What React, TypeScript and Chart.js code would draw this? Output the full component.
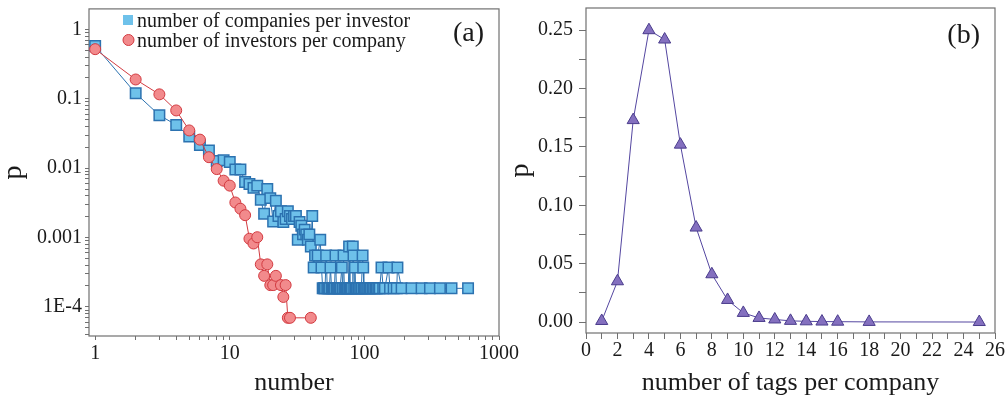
import React, { useEffect, useRef } from 'react';
import { Chart, registerables } from 'chart.js';

Chart.register(...registerables);

const FONT = '"Liberation Serif", "Times New Roman", serif';

// ---------- Panel (a): degree distributions (log-log) ----------
const companiesPerInvestorX = [
  1, 2, 3, 4, 5, 6, 7, 8, 9, 10, 11, 12, 13, 14, 15, 16, 17, 18, 19, 20,
  21, 22, 23, 24, 25, 26, 27, 28, 29, 30, 31, 32, 33, 34, 35, 36, 37, 38, 39, 40,
  41, 42, 43, 45, 47, 48, 49, 50, 51, 52, 53, 54, 55, 56, 57, 58, 59, 60,
  61, 62, 63, 64, 65, 66, 67, 68, 69, 70, 71, 72, 73, 74, 75, 76, 77, 78, 79, 80,
  81, 82, 83, 84, 85, 86, 87, 88, 90, 91, 93, 95, 96, 97, 98, 99, 101, 103, 105,
  107, 110, 112, 115, 118, 121, 124, 127, 130, 134, 138, 142, 151, 155, 165, 174,
  176, 189, 224, 266, 307, 364, 444, 589,
];
const companiesPerInvestorP = [
  0.58, 0.12, 0.058, 0.042, 0.0287, 0.0216, 0.018, 0.0127, 0.013, 0.0123,
  0.0096, 0.0096, 0.0063, 0.0059, 0.0052, 0.0056, 0.0035, 0.0022, 0.005, 0.0037,
  0.0017, 0.0034, 0.00204, 0.0024, 0.00167, 0.00185, 0.0024, 0.00204, 0.00185, 0.00204,
  0.00204, 0.00093, 0.00167, 0.00148, 0.00111, 0.0013, 0.00111, 0.00093, 0.00111, 0.00074,
  0.00204, 0.00037, 0.00055, 0.00055, 0.00093, 0.00037, 0.000185, 0.000185, 0.000185, 0.00055,
  0.000185, 0.000185, 0.000185, 0.00037, 0.000185, 0.000185, 0.000185, 0.000185,
  0.00055, 0.000185, 0.000185, 0.000185, 0.000185, 0.000185, 0.000185, 0.00037, 0.000185, 0.00055,
  0.000185, 0.000185, 0.000185, 0.000185, 0.000185, 0.000185, 0.00074, 0.000185, 0.000185, 0.000185,
  0.000185, 0.00074, 0.00055, 0.000185, 0.00037, 0.000185, 0.000185, 0.000185, 0.000185, 0.000185,
  0.000185, 0.000185, 0.000185, 0.00055, 0.00037, 0.000185, 0.000185, 0.000185, 0.000185,
  0.000185, 0.000185, 0.000185, 0.000185, 0.000185, 0.000185, 0.000185, 0.000185, 0.000185,
  0.00037, 0.000185, 0.000185, 0.00037, 0.000185, 0.000185, 0.000185,
  0.00037, 0.000185, 0.000185, 0.000185, 0.000185, 0.000185, 0.000185, 0.000185,
];
const investorsPerCompanyX = [
  1, 2, 3, 4, 5, 6, 7, 8, 9, 10, 11, 12, 13, 14, 15, 16, 17, 18, 19, 20,
  21, 22, 24, 25, 26, 27, 28, 40,
];
const investorsPerCompanyP = [
  0.52, 0.19, 0.116, 0.068, 0.035, 0.0258, 0.0144, 0.0097, 0.0066, 0.0056,
  0.0032, 0.0026, 0.0021, 0.00096, 0.00082, 0.00101, 0.00041, 0.00028, 0.00041, 0.000206,
  0.000206, 0.00028, 0.000206, 0.000139, 0.000206, 0.0000695, 0.0000695, 0.0000695,
];
const logXMajor = [1, 10, 100, 1000];
const logXLabels = ['1', '10', '100', '1000'];
const logYMajor = [1e-4, 1e-3, 1e-2, 1e-1, 1];
const logYLabels = ['1E-4', '0.001', '0.01', '0.1', '1'];
const legendLabels = ['number of companies per investor', 'number of investors per company'];

// ---------- Panel (b): tags per company ----------
const tagsX = [1, 2, 3, 4, 5, 6, 7, 8, 9, 10, 11, 12, 13, 14, 15, 16, 18, 25];
const tagsP = [
  0.001, 0.035, 0.173, 0.25, 0.242, 0.152, 0.081, 0.041, 0.019, 0.0079,
  0.0036, 0.0023, 0.0011, 0.0007, 0.0005, 0.0004, 0.0002, 0.0001,
];
const tagsXTicks = Array.from({ length: 27 }, (_, i) => i);
const tagsYTicks = Array.from({ length: 11 }, (_, i) => Math.round(i * 25) / 1000);

const BLUE_FILL = '#6ec1ea';
const BLUE_LINE = '#2c72b0';
const RED_FILL = '#f28a8c';
const RED_LINE = '#d23a40';
const PURPLE_FILL = '#8470bf';
const PURPLE_LINE = '#4a3c8c';
const TEXT = '#1a1a1a';
const AXIS = '#707070';

function logTicks(majors: number[], lo: number, hi: number) {
  const out: number[] = [];
  const e0 = Math.floor(Math.log10(lo)) - 1;
  const e1 = Math.ceil(Math.log10(hi));
  for (let e = e0; e <= e1; e++) {
    for (let m = 1; m <= 9; m++) {
      const v = m * Math.pow(10, e);
      if (v >= lo * 0.9999 && v <= hi * 1.0001) out.push(v);
    }
  }
  return out;
}

function labelFor(v: number, majors: number[], labels: string[]) {
  for (let i = 0; i < majors.length; i++) {
    if (Math.abs(v - majors[i]) / majors[i] < 1e-6) return labels[i];
  }
  return '';
}

const framePlugin = {
  id: 'frame',
  beforeDatasetsDraw(chart: any) {
    const { ctx, chartArea } = chart;
    ctx.save();
    ctx.strokeStyle = AXIS;
    ctx.lineWidth = 1.2;
    ctx.strokeRect(chartArea.left, chartArea.top, chartArea.right - chartArea.left, chartArea.bottom - chartArea.top);
    ctx.restore();
  },
};

function panelLabel(text: string, x: number, y: number) {
  return {
    id: 'panelLabel' + text,
    afterDraw(chart: any) {
      const ctx = chart.ctx;
      ctx.save();
      ctx.font = `28px ${FONT}`;
      ctx.fillStyle = TEXT;
      ctx.textAlign = 'right';
      ctx.textBaseline = 'alphabetic';
      ctx.fillText(text, x, y);
      ctx.restore();
    },
  };
}

const legendPlugin = {
  id: 'customLegend',
  afterDraw(chart: any) {
    const ctx = chart.ctx;
    ctx.save();
    ctx.fillStyle = BLUE_FILL;
    ctx.fillRect(123, 15, 10, 10);
    ctx.beginPath();
    ctx.arc(128.5, 40, 5.5, 0, Math.PI * 2);
    ctx.fillStyle = RED_FILL;
    ctx.fill();
    ctx.strokeStyle = RED_LINE;
    ctx.lineWidth = 1;
    ctx.stroke();
    ctx.font = `20px ${FONT}`;
    ctx.fillStyle = TEXT;
    ctx.textAlign = 'left';
    ctx.textBaseline = 'alphabetic';
    ctx.fillText(legendLabels[0], 137, 27);
    ctx.fillText(legendLabels[1], 137, 47);
    ctx.restore();
  },
};

const tickFont = { family: FONT, size: 20 };

export default function App() {
  const ref1 = useRef<HTMLCanvasElement>(null);
  const ref2 = useRef<HTMLCanvasElement>(null);

  useEffect(() => {
    const xMin = 0.9, xMax = 1000, yMin = 3.8e-5, yMax = 1.98;
    const c1 = new Chart(ref1.current!, {
      type: 'line',
      data: {
        datasets: [
          {
            label: legendLabels[1],
            data: investorsPerCompanyX.map((x, i) => ({ x, y: investorsPerCompanyP[i] })),
            borderColor: RED_LINE,
            borderWidth: 1,
            pointStyle: 'circle',
            pointRadius: 5.5,
            pointBackgroundColor: RED_FILL,
            pointBorderColor: RED_LINE,
            pointBorderWidth: 1,
            tension: 0,
          },
          {
            label: legendLabels[0],
            data: companiesPerInvestorX.map((x, i) => ({ x, y: companiesPerInvestorP[i] })),
            borderColor: BLUE_LINE,
            borderWidth: 1,
            pointStyle: 'rect',
            pointRadius: 7.4,
            pointBackgroundColor: BLUE_FILL,
            pointBorderColor: BLUE_LINE,
            pointBorderWidth: 1.5,
            tension: 0,
          },
        ],
      },
      options: {
        animation: false,
        responsive: false,
        layout: { padding: { top: 4, right: 31, left: 0, bottom: 0 } },
        plugins: { legend: { display: false }, tooltip: { enabled: false } },
        scales: {
          x: {
            type: 'logarithmic',
            min: xMin,
            max: xMax,
            afterBuildTicks: (s: any) => {
              s.ticks = logTicks(logXMajor, 1, xMax).map((v) => ({ value: v }));
            },
            afterFit: (s: any) => {
              s.height = 76;
              s.paddingLeft = 0;
              s.paddingRight = 0;
            },
            ticks: {
              callback: (v: any) => labelFor(Number(v), logXMajor, logXLabels),
              font: tickFont,
              color: TEXT,
              padding: 2,
              maxRotation: 0,
              autoSkip: false,
            },
            grid: { drawOnChartArea: false, drawTicks: true, tickLength: 4, color: AXIS },
            border: { display: false },
            title: {
              display: true,
              text: 'number',
              color: TEXT,
              font: { family: FONT, size: 26, lineHeight: 1 },
              padding: { top: 0, bottom: 16 },
            },
          },
          y: {
            type: 'logarithmic',
            min: yMin,
            max: yMax,
            afterBuildTicks: (s: any) => {
              s.ticks = logTicks(logYMajor, 4e-5, 1).map((v) => ({ value: v }));
            },
            afterFit: (s: any) => {
              s.width = 89;
              s.paddingTop = 0;
              s.paddingBottom = 0;
            },
            ticks: {
              callback: (v: any) => labelFor(Number(v), logYMajor, logYLabels),
              font: tickFont,
              color: TEXT,
              padding: 3,
              autoSkip: false,
            },
            grid: { drawOnChartArea: false, drawTicks: true, tickLength: 4, color: AXIS },
            border: { display: false },
            title: {
              display: true,
              text: 'p',
              color: TEXT,
              font: { family: FONT, size: 28, lineHeight: 1 },
              padding: { top: 0, bottom: 0 },
            },
          },
        },
      } as any,
      plugins: [framePlugin, legendPlugin, panelLabel('(a)', 484, 41)],
    });

    const c2 = new Chart(ref2.current!, {
      type: 'line',
      data: {
        datasets: [
          {
            label: 'tags',
            data: tagsX.map((x, i) => ({ x, y: tagsP[i] })),
            borderColor: '#5446a0',
            borderWidth: 1,
            pointStyle: 'triangle',
            pointRadius: 7,
            pointBackgroundColor: PURPLE_FILL,
            pointBorderColor: PURPLE_LINE,
            pointBorderWidth: 1,
            tension: 0,
          },
        ],
      },
      options: {
        animation: false,
        responsive: false,
        layout: { padding: { top: 4, right: 11, left: 0, bottom: 0 } },
        plugins: { legend: { display: false }, tooltip: { enabled: false } },
        scales: {
          x: {
            type: 'linear',
            min: 0,
            max: 26,
            afterBuildTicks: (s: any) => {
              s.ticks = tagsXTicks.map((v) => ({ value: v }));
            },
            afterFit: (s: any) => {
              s.height = 79;
              s.paddingLeft = 0;
              s.paddingRight = 0;
            },
            ticks: {
              callback: (v: any) => (Number(v) % 2 === 0 ? String(v) : ''),
              font: tickFont,
              color: TEXT,
              padding: 0,
              maxRotation: 0,
              autoSkip: false,
            },
            grid: { drawOnChartArea: false, drawTicks: true, tickLength: 6, color: AXIS },
            border: { display: false },
            title: {
              display: true,
              text: 'number of tags per company',
              color: TEXT,
              font: { family: FONT, size: 26, lineHeight: 1 },
              padding: { top: 0, bottom: 16 },
            },
          },
          y: {
            type: 'linear',
            min: -0.0093,
            max: 0.269,
            afterBuildTicks: (s: any) => {
              s.ticks = tagsYTicks.map((v) => ({ value: v }));
            },
            afterFit: (s: any) => {
              s.width = 86;
              s.paddingTop = 0;
              s.paddingBottom = 0;
            },
            ticks: {
              callback: (v: any) => {
                const n = Number(v);
                return Math.round(n * 1000) % 50 === 0 ? n.toFixed(2) : '';
              },
              font: tickFont,
              color: TEXT,
              padding: 6,
              autoSkip: false,
            },
            grid: { drawOnChartArea: false, drawTicks: true, tickLength: 7, color: AXIS },
            border: { display: false },
            title: {
              display: true,
              text: 'p',
              color: TEXT,
              font: { family: FONT, size: 28, lineHeight: 1 },
              padding: { top: 7, bottom: 0 },
            },
          },
        },
      } as any,
      plugins: [framePlugin, panelLabel('(b)', 480, 43)],
    });

    return () => {
      c1.destroy();
      c2.destroy();
    };
  }, []);

  return (
    <div style={{ position: 'fixed', left: 0, top: 0, width: 1006, height: 412, background: '#fff' }}>
      <canvas ref={ref1} width={530} height={412} style={{ position: 'absolute', left: 0, top: 0, width: 530, height: 412 }} />
      <canvas ref={ref2} width={506} height={412} style={{ position: 'absolute', left: 500, top: 0, width: 506, height: 412 }} />
    </div>
  );
}
